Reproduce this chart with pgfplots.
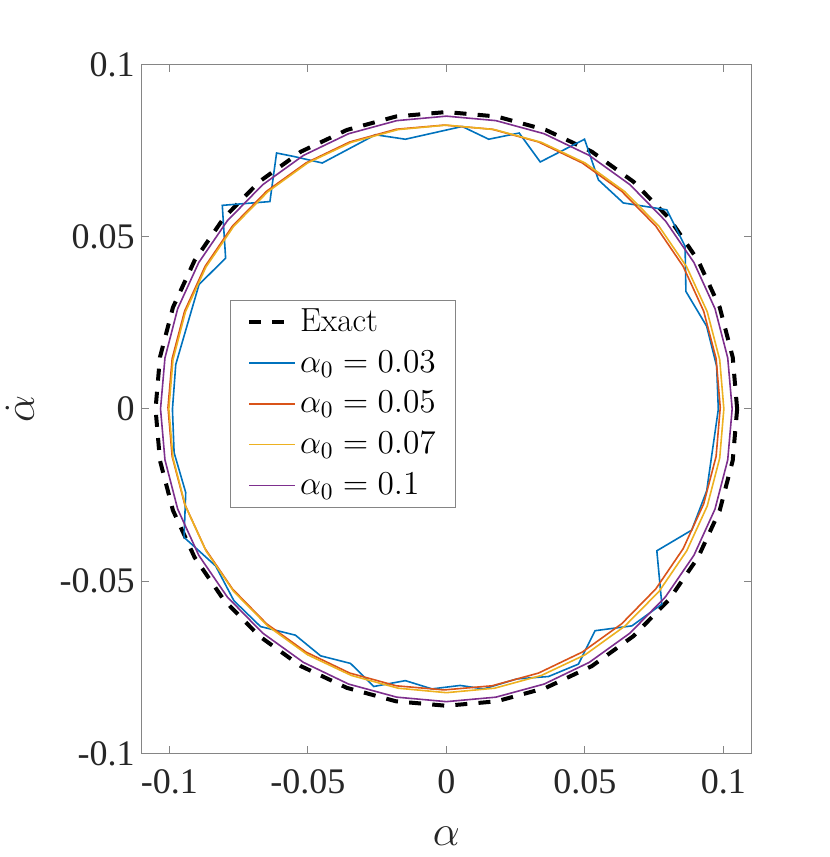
\RequirePackage{fix-cm}
\documentclass[border=0pt]{standalone}
\usepackage{fontspec}
\newfontfamily\tnr{Liberation Serif}
\usepackage{pgfplots}
\pgfplotsset{compat=1.18}
\definecolor{mblue}{rgb}{0,0.447,0.741}
\definecolor{morange}{rgb}{0.851,0.325,0.098}
\definecolor{myellow}{rgb}{0.929,0.694,0.125}
\definecolor{mpurple}{rgb}{0.494,0.184,0.556}
\definecolor{axgray}{rgb}{0.52,0.52,0.52}
\definecolor{txt}{rgb}{0.15,0.15,0.15}
\begin{document}
\begin{tikzpicture}
\path[use as bounding box] (-70.85pt,-51.85pt) rectangle (344.15pt,376.65pt);
\begin{axis}[
  at={(0pt,0pt)}, anchor=south west,
  scale only axis, width=304.65pt, height=344.4pt,
  xmin=-0.11, xmax=0.11, ymin=-0.1, ymax=0.1,
  xtick={-0.1,-0.05,0,0.05,0.1}, xticklabels={-0.1,-0.05,0,0.05,0.1},
  ytick={-0.1,-0.05,0,0.05,0.1}, yticklabels={-0.1,-0.05,0,0.05,0.1},
  tick align=inside, xtick pos=both, ytick pos=both,
  major tick length=3.7pt,
  axis line style={axgray, line width=0.5pt},
  every tick/.style={axgray, line width=0.5pt},
  ticklabel style={font=\tnr\fontsize{18}{20}\selectfont, text=txt},
  xticklabel style={yshift=-4.5pt},
  xlabel={$\alpha$}, ylabel={$\dot{\alpha}$},
  xlabel style={at={(axis description cs:0.5,-0.12)}, anchor=center, font=\fontsize{21.5}{24}\selectfont, text=txt},
  ylabel style={at={(axis description cs:-0.2,0.5)}, anchor=center, font=\fontsize{21.5}{24}\selectfont, text=txt},
  legend cell align=left,
  legend style={at={(0.145,0.658)}, anchor=north west, draw=axgray, line width=0.5pt, fill=white,
    inner xsep=8.3pt, inner ysep=1.85pt, row sep=2.4pt, font=\fontsize{16.7}{19}\selectfont, text=black,
    nodes={inner sep=1.5pt, text height=12pt, text depth=3pt}},
  legend image code/.code={\draw[#1] (0pt,0pt) -- (23pt,0pt);},
]
\addplot[black, line width=2pt, dash pattern=on 6pt off 5.6pt] coordinates {
(0.1050,0) (0.1034,0.0150) (0.0987,0.0295) (0.0909,0.0431) (0.0804,0.0554) (0.0675,0.0660)
(0.0525,0.0747) (0.0359,0.0810) (0.0182,0.0849) (0,0.0862) (-0.0182,0.0849) (-0.0359,0.0810)
(-0.0525,0.0747) (-0.0675,0.0660) (-0.0804,0.0554) (-0.0909,0.0431) (-0.0987,0.0295) (-0.1034,0.0150)
(-0.1050,0) (-0.1034,-0.0150) (-0.0987,-0.0295) (-0.0909,-0.0431) (-0.0804,-0.0554) (-0.0675,-0.0660)
(-0.0525,-0.0747) (-0.0359,-0.0810) (-0.0182,-0.0849) (0,-0.0862) (0.0182,-0.0849) (0.0359,-0.0810)
(0.0525,-0.0747) (0.0675,-0.0660) (0.0804,-0.0554) (0.0909,-0.0431) (0.0987,-0.0295) (0.1034,-0.0150)
(0.1050,0)};
\addlegendentry{Exact}
\addplot[mblue, line width=0.8pt] coordinates {
(0.0982,-0.0001) (0.0976,0.0124) (0.0940,0.0240) (0.0865,0.0341) (0.0862,0.0472) (0.0796,0.0578)
(0.0639,0.0598) (0.0549,0.0665) (0.0499,0.0783) (0.0339,0.0717) (0.0263,0.0801) (0.0153,0.0783)
(0.0057,0.0820) (-0.0148,0.0783) (-0.0256,0.0796) (-0.0448,0.0714) (-0.0551,0.0733) (-0.0613,0.0743)
(-0.0637,0.0602) (-0.0809,0.0591) (-0.0797,0.0438) (-0.0893,0.0361) (-0.0977,0.0129) (-0.0989,-0.0001)
(-0.0983,-0.0127) (-0.0941,-0.0243) (-0.0947,-0.0373) (-0.0833,-0.0456) (-0.0767,-0.0557) (-0.0671,-0.0632)
(-0.0545,-0.0657) (-0.0454,-0.0717) (-0.0346,-0.0739) (-0.0262,-0.0806) (-0.0148,-0.0789) (-0.0052,-0.0813)
(0.0050,-0.0803) (0.0135,-0.0813) (0.0255,-0.0784) (0.0369,-0.0777) (0.0477,-0.0741) (0.0537,-0.0644)
(0.0670,-0.0630) (0.0778,-0.0567) (0.0760,-0.0412) (0.0886,-0.0352) (0.0940,-0.0238) (0.0982,-0.0001)};
\addlegendentry{$\alpha_0 = 0.03$}
\addplot[morange, line width=0.8pt] coordinates {
(0.0989,0.0004) (0.0974,0.0146) (0.0929,0.0284) (0.0855,0.0414) (0.0756,0.0531) (0.0633,0.0632)
(0.0491,0.0714) (0.0333,0.0775) (0.0165,0.0812) (-0.0008,0.0824) (-0.0181,0.0812) (-0.0349,0.0775)
(-0.0507,0.0714) (-0.0649,0.0632) (-0.0772,0.0531) (-0.0871,0.0414) (-0.0945,0.0284) (-0.0990,0.0146)
(-0.1005,0.0004) (-0.0990,-0.0138) (-0.0945,-0.0276) (-0.0871,-0.0406) (-0.0772,-0.0523) (-0.0649,-0.0624)
(-0.0507,-0.0706) (-0.0349,-0.0767) (-0.0181,-0.0804) (-0.0008,-0.0816) (0.0165,-0.0804) (0.0333,-0.0767)
(0.0491,-0.0706) (0.0633,-0.0624) (0.0756,-0.0523) (0.0855,-0.0406) (0.0929,-0.0276) (0.0974,-0.0138)
(0.0989,0.0004)};
\addlegendentry{$\alpha_0 = 0.05$}
\addplot[myellow, line width=0.8pt] coordinates {
(0.1002,0) (0.0987,0.0143) (0.0942,0.0282) (0.0868,0.0412) (0.0768,0.0530) (0.0644,0.0631)
(0.0501,0.0714) (0.0343,0.0774) (0.0174,0.0811) (0,0.0824) (-0.0174,0.0811) (-0.0343,0.0774)
(-0.0501,0.0714) (-0.0644,0.0631) (-0.0768,0.0530) (-0.0868,0.0412) (-0.0942,0.0282) (-0.0987,0.0143)
(-0.1002,0) (-0.0987,-0.0143) (-0.0942,-0.0282) (-0.0868,-0.0412) (-0.0768,-0.0530) (-0.0644,-0.0631)
(-0.0501,-0.0714) (-0.0343,-0.0774) (-0.0174,-0.0811) (0,-0.0824) (0.0174,-0.0811) (0.0343,-0.0774)
(0.0501,-0.0714) (0.0644,-0.0631) (0.0768,-0.0530) (0.0868,-0.0412) (0.0942,-0.0282) (0.0987,-0.0143)
(0.1002,0)};
\addlegendentry{$\alpha_0 = 0.07$}
\addplot[mpurple, line width=0.8pt] coordinates {
(0.1032,0) (0.1016,0.0148) (0.0970,0.0291) (0.0894,0.0425) (0.0791,0.0546) (0.0663,0.0651)
(0.0516,0.0736) (0.0353,0.0799) (0.0179,0.0837) (0,0.0850) (-0.0179,0.0837) (-0.0353,0.0799)
(-0.0516,0.0736) (-0.0663,0.0651) (-0.0791,0.0546) (-0.0894,0.0425) (-0.0970,0.0291) (-0.1016,0.0148)
(-0.1032,0) (-0.1016,-0.0148) (-0.0970,-0.0291) (-0.0894,-0.0425) (-0.0791,-0.0546) (-0.0663,-0.0651)
(-0.0516,-0.0736) (-0.0353,-0.0799) (-0.0179,-0.0837) (0,-0.0850) (0.0179,-0.0837) (0.0353,-0.0799)
(0.0516,-0.0736) (0.0663,-0.0651) (0.0791,-0.0546) (0.0894,-0.0425) (0.0970,-0.0291) (0.1016,-0.0148)
(0.1032,0)};
\addlegendentry{$\alpha_0 = 0.1$}
\end{axis}
\end{tikzpicture}
\end{document}
